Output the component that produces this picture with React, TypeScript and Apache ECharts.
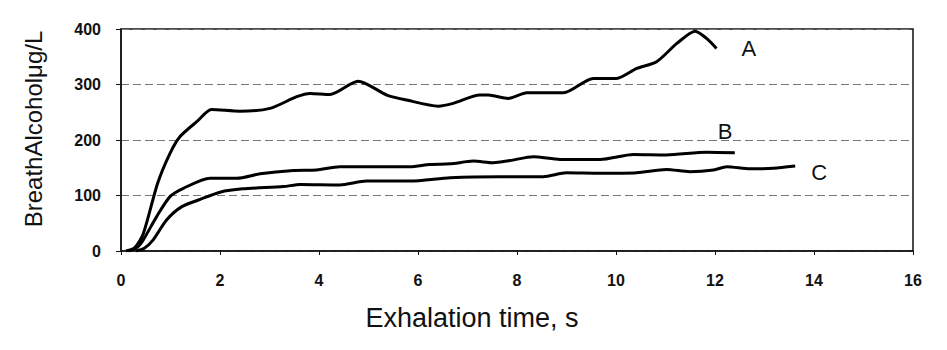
import React, { useEffect, useRef } from "react";
import * as echarts from "echarts";

// Exhalation time (s) and breath alcohol (µg/L) for the three profiles
const timeA = [0.1, 0.28, 0.45, 0.74, 0.99, 1.19, 1.53, 1.83, 2.4, 3.01, 3.55, 3.82, 4.22, 4.79, 5.37, 5.77, 6.41, 6.71, 7.25, 7.42, 7.82, 8.2, 8.94, 9.54, 10.01, 10.42, 10.82, 11.23, 11.6, 11.83, 12.03];
const valueA = [0, 6, 31, 122, 176, 206, 233, 255, 252, 257, 278, 284, 282, 306, 281, 272, 261, 266, 281, 281, 275, 285, 285, 311, 311, 329, 341, 374, 396, 383, 365];

const timeB = [0.15, 0.32, 0.45, 0.72, 0.99, 1.26, 1.8, 2.34, 2.81, 3.48, 3.95, 4.42, 5.84, 6.24, 6.65, 7.12, 7.52, 7.86, 8.33, 8.87, 9.68, 10.35, 11.02, 11.83, 12.4];
const valueB = [0, 6, 20, 62, 98, 113, 131, 131, 139, 145, 146, 152, 152, 156, 157, 162, 159, 163, 170, 165, 165, 174, 173, 178, 177];

const timeC = [0.3, 0.47, 0.65, 0.92, 1.23, 1.6, 2.0, 2.46, 3.28, 3.62, 4.42, 4.96, 5.84, 6.65, 7.66, 8.53, 9.0, 9.68, 10.42, 11.02, 11.49, 11.97, 12.24, 12.71, 13.18, 13.62];
const valueC = [0, 5, 20, 56, 80, 93, 106, 112, 116, 120, 119, 126, 126, 132, 134, 134, 141, 140, 141, 147, 143, 146, 152, 148, 149, 153];

const xTicks = [0, 2, 4, 6, 8, 10, 12, 14, 16];
const yTicks = [0, 100, 200, 300, 400];

const zip = (xs: number[], ys: number[]) => xs.map((x, i) => [x, ys[i]]);

export default function App() {
  const ref = useRef<HTMLDivElement>(null);
  useEffect(() => {
    if (!ref.current) return;
    const chart = echarts.init(ref.current, undefined, { renderer: "svg" });
    const font = "'Liberation Sans', Arial, sans-serif";
    const lineSeries = (name: string, data: number[][], offset: number[]) => ({
      type: "line",
      name,
      data,
      smooth: 0.25,
      showSymbol: false,
      symbol: "none",
      lineStyle: { color: "#000", width: 3 },
      endLabel: {
        show: true,
        formatter: name,
        offset,
        color: "#111",
        fontSize: 22,
        fontFamily: font,
      },
    });
    chart.setOption({
      animation: false,
      backgroundColor: "#fff",
      grid: {
        left: 121,
        right: 34,
        top: 29,
        bottom: 99,
        show: true,
        borderColor: "#111",
        borderWidth: 1.5,
      },
      xAxis: {
        type: "value",
        min: xTicks[0],
        max: xTicks[xTicks.length - 1],
        interval: 2,
        axisLine: { lineStyle: { color: "#111", width: 1.5 } },
        axisTick: { show: true, length: 4, lineStyle: { color: "#111" } },
        splitLine: { show: false },
        axisLabel: {
          margin: 21,
          fontSize: 16,
          fontWeight: "bold",
          color: "#111",
          fontFamily: font,
        },
      },
      yAxis: {
        type: "value",
        min: yTicks[0],
        max: yTicks[yTicks.length - 1],
        interval: 100,
        axisLine: { show: true, lineStyle: { color: "#111", width: 1.5 } },
        axisTick: { show: true, length: 5, lineStyle: { color: "#111" } },
        splitLine: {
          show: true,
          lineStyle: { color: "#777", width: 1, type: [8, 4] },
        },
        axisLabel: {
          margin: 20,
          fontSize: 16,
          fontWeight: "bold",
          color: "#111",
          fontFamily: font,
        },
      },
      graphic: [
        {
          type: "text",
          x: 33,
          y: 129,
          rotation: Math.PI / 2,
          style: {
            text: "BreathAlcoholμg/L",
            fontSize: 24,
            fontFamily: font,
            fill: "#111",
            align: "center",
            verticalAlign: "middle",
          },
        },
        {
          type: "text",
          x: 472,
          y: 318,
          style: {
            text: "Exhalation time, s",
            fontSize: 27,
            fontFamily: font,
            fill: "#111",
            align: "center",
            verticalAlign: "middle",
          },
        },
      ],
      series: [
        lineSeries("A", zip(timeA, valueA), [17, 0]),
        lineSeries("B", zip(timeB, valueB), [-25, -21]),
        lineSeries("C", zip(timeC, valueC), [8, 6]),
      ],
    });
    return () => chart.dispose();
  }, []);
  return (
    <div
      ref={ref}
      style={{ position: "absolute", left: 0, top: 0, width: 947, height: 350 }}
    />
  );
}
